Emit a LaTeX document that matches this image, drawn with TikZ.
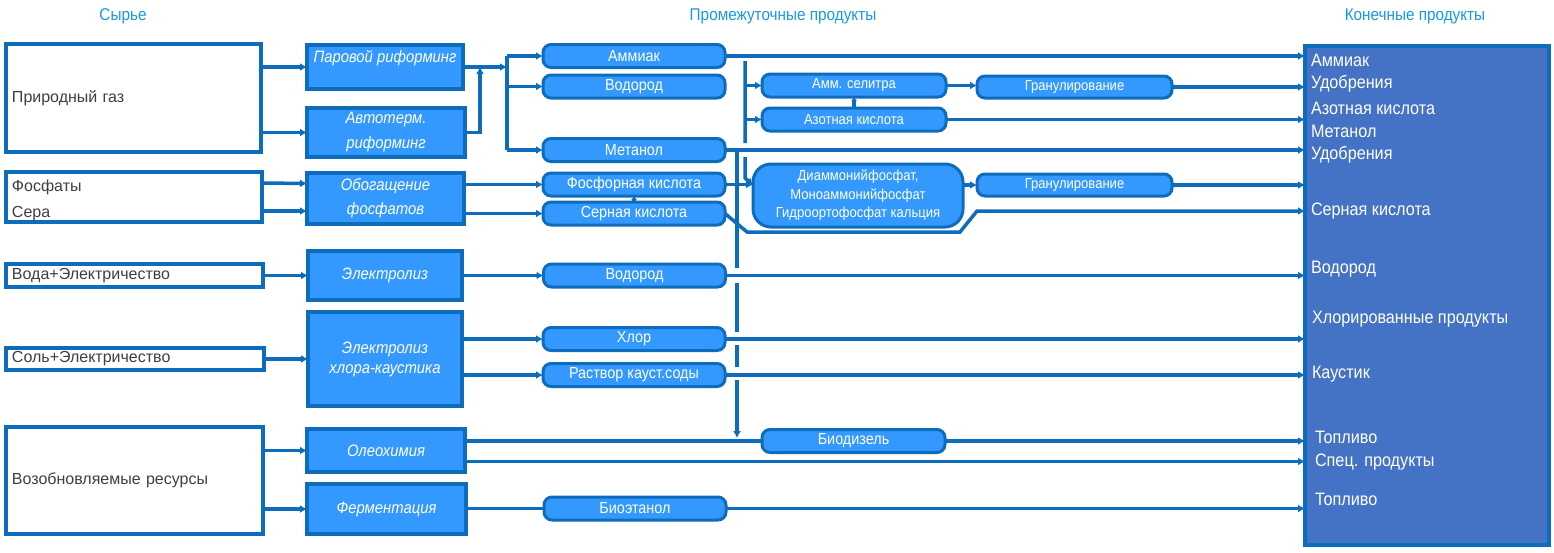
\documentclass[tikz,border=0pt]{standalone}
\usepackage{fontspec}
\setmainfont{Liberation Sans}
\newfontfamily\narrowsans[FakeStretch=0.9]{Liberation Sans}
\usetikzlibrary{arrows.meta}
\definecolor{edgeblue}{RGB}{14,108,188}
\definecolor{fillblue}{RGB}{51,153,255}
\definecolor{prodblue}{RGB}{68,114,196}
\definecolor{headblue}{RGB}{25,152,228}
\definecolor{rawgray}{RGB}{62,62,72}
\begin{document}
\begin{tikzpicture}[x=1pt, y=-1pt, >={Latex[length=7pt,width=8pt]},
    every node/.style={inner sep=0pt, outer sep=0pt},
    rawbox/.style={draw=edgeblue, fill=white, line width=3.5pt, inner xsep=6pt, text=rawgray, align=left, font=\fontsize{16}{19}\selectfont},
    procbox/.style={draw=edgeblue, fill=fillblue, line width=3.5pt, text=white, align=center, font=\narrowsans\fontsize{16.5}{25}\selectfont\itshape},
    midbox/.style={draw=edgeblue, fill=fillblue, line width=3pt, rounded corners=8pt, text=white, minimum width=182pt, minimum height=23pt, font=\narrowsans\fontsize{16}{17}\selectfont},
    midsmall/.style={midbox, font=\narrowsans\fontsize{14.5}{18.5}\selectfont},
    colhead/.style={text=headblue, font=\narrowsans\fontsize{17}{18}\selectfont},
    prodtext/.style={anchor=west, text=white, font=\narrowsans\fontsize{18}{19}\selectfont},
    link/.style={draw=edgeblue, line width=3.5pt},
    tiny/.style={>={Latex[length=4pt,width=6pt]}}]
  \useasboundingbox (0,0) rectangle (1554,552);

  \node[colhead] (hraw) at (123,16) {Сырье};
  \node[colhead] (hmid) at (783,16) {Промежуточные продукты};
  \node[colhead] (hend) at (1415,16) {Конечные продукты};

  \node[rawbox, text width=243pt, minimum height=108pt] (gas) at (133.5,98) {Природный газ};
  \node[rawbox, text width=244pt, minimum height=50pt] (phos) at (134,197) {\rule{0pt}{18pt}Фосфаты\\[7.5pt]Сера};
  \node[rawbox, text width=245pt, minimum height=23pt] (water) at (134.5,275.5) {Вода+Электричество};
  \node[rawbox, text width=246pt, minimum height=22pt] (salt) at (135,359) {Соль+Электричество};
  \node[rawbox, text width=245pt, minimum height=107pt] (renew) at (134.5,480.5) {Возобновляемые ресурсы};

  \node[procbox, minimum width=156pt, inner ysep=3pt, text height=14pt, text depth=24pt] (steam) at (385,67) {Паровой риформинг};
  \node[procbox, minimum width=158pt, minimum height=49pt] (auto) at (386,132.5) {Автотерм.\\риформинг};
  \node[procbox, minimum width=157pt, minimum height=51pt] (benef) at (385.5,198.5) {Обогащение\\[-1pt]фосфатов};
  \node[procbox, minimum width=154pt, minimum height=49pt] (electro) at (385,275.5) {Электролиз};
  \node[procbox, minimum width=154pt, minimum height=94pt] (chlor) at (385,359) {Электролиз\\[-5pt]хлора-каустика};
  \node[procbox, minimum width=158pt, minimum height=43pt] (oleo) at (386,450.5) {Олеохимия};
  \node[procbox, minimum width=159pt, minimum height=50pt] (ferm) at (386.5,509) {Ферментация};

  \node[midbox] (ammonia) at (634,56) {Аммиак};
  \node[midbox] (hydroA) at (634,86.5) {Водород};
  \node[midbox] (methanol) at (634,150) {Метанол};
  \node[midbox] (phosacid) at (634,184.5) {Фосфорная кислота};
  \node[midbox] (sulfacid) at (634,213.5) {Серная кислота};
  \node[midbox] (hydroB) at (634.5,275.5) {Водород};
  \node[midbox] (chlorine) at (634,339) {Хлор};
  \node[midbox] (caustic) at (634,375) {Раствор кауст.соды};
  \node[midbox] (bioeth) at (635,508.5) {Биоэтанол};
  \node[midbox, minimum width=183pt] (biodiesel) at (853.5,441) {Биодизель};
  \node[midsmall, minimum width=184pt] (nitrate) at (854,85.5) {Амм. селитра};
  \node[midsmall, minimum width=184pt] (nitric) at (854,119.5) {Азотная кислота};
  \node[midsmall, minimum width=210pt, minimum height=63pt, rounded corners=18pt, align=center] (dap) at (858,195.5) {Диаммонийфосфат,\\Моноаммонийфосфат\\Гидроортофосфат кальция};
  \node[midsmall, minimum width=195pt, minimum height=22pt] (granA) at (1074.5,87) {Гранулирование};
  \node[midsmall, minimum width=195pt, minimum height=22pt] (granB) at (1074.5,185) {Гранулирование};

  \node[draw=edgeblue, fill=prodblue, line width=3.5pt, minimum width=244pt, minimum height=499pt] (prod) at (1427,295.5) {};
  \node[prodtext] (pAmmonia) at (1311,60) {Аммиак};
  \node[prodtext] (pFertA) at (1311,84) {Удобрения};
  \node[prodtext] (pNitric) at (1311,108) {Азотная кислота};
  \node[prodtext] (pMethanol) at (1311,131) {Метанол};
  \node[prodtext] (pFertB) at (1311,155) {Удобрения};
  \node[prodtext] (pSulf) at (1311,211) {Серная кислота};
  \node[prodtext] (pHydro) at (1311,269) {Водород};
  \node[prodtext] (pChlor) at (1312,319) {Хлорированные продукты};
  \node[prodtext] (pCaustic) at (1312,374) {Каустик};
  \node[prodtext] (pFuelA) at (1315,437) {Топливо};
  \node[prodtext] (pSpec) at (1315,462) {Спец. продукты};
  \node[prodtext] (pFuelB) at (1315,499) {Топливо};

  \coordinate (split) at (507,67);
  \coordinate (merge) at (480,67);
  \coordinate (nbus) at (745,61);
  \coordinate (mbus) at (737,150);

  \draw[link, ->] (gas.east |- steam) -- (steam);
  \draw[link, ->] (gas.east |- auto) -- (auto);
  \draw[link, ->] ([yshift=14pt]phos.east) -- ([yshift=15pt]benef.west);
  \draw[link, ->] ([yshift=-14pt]phos.east) -- ([yshift=-12.5pt]benef.west);
  \draw[link, ->] (water) -- (electro);
  \draw[link, ->] (salt) -- (chlor);
  \draw[link, ->] (renew.east |- oleo) -- (oleo);
  \draw[link, ->] (renew.east |- ferm) -- (ferm);

  \draw[link, ->] (steam) -- (split);
  \draw[link, ->] (auto) -| (merge);
  \draw[link] (split |- ammonia) -- (split |- methanol);
  \draw[link, ->] (split |- ammonia) -- (ammonia);
  \draw[link, ->] (split |- hydroA) -- (hydroA);
  \draw[link, ->] (split |- methanol) -- (methanol);
  \draw[link, ->] (benef.east |- phosacid) -- (phosacid);
  \draw[link, ->] (benef.east |- sulfacid) -- (sulfacid);
  \draw[link, ->, tiny] (sulfacid) -- (phosacid);
  \draw[link, ->] (electro) -- (hydroB);
  \draw[link, ->] (chlor.east |- chlorine) -- (chlorine);
  \draw[link, ->] (chlor.east |- caustic) -- (caustic);
  \draw[link] (oleo.east |- biodiesel) -- (biodiesel);
  \draw[link] (ferm.east |- bioeth) -- (bioeth);

  \draw[link, ->] (nbus) -- ++(0,82) ++(0,14) -- ++(0,21) -- ([yshift=10pt]dap.west);
  \draw[link, ->] (nbus |- nitrate) -- (nitrate);
  \draw[link, ->] (nbus |- nitric) -- (nitric);
  \draw[link, ->, tiny] (nitric) -- (nitrate);
  \draw[link, ->] (mbus) -- ++(0,118) ++(0,15) -- ++(0,49) ++(0,13) -- ++(0,22) ++(0,13) -- ([yshift=3pt]mbus |- biodiesel);
  \draw[link, ->] (phosacid) -- (phosacid -| dap.west);
  \draw[link, ->] (dap.east |- granB) -- (granB);
  \draw[link, ->] (nitrate.east) -- (nitrate.east -| granA.west);

  \draw[link, ->] (ammonia) -- (ammonia -| prod.west);
  \draw[link, ->] (granA) -- (granA -| prod.west);
  \draw[link, ->] (nitric) -- (nitric -| prod.west);
  \draw[link, ->] (methanol) -- (methanol -| prod.west);
  \draw[link, ->] (granB) -- (granB -| prod.west);
  \draw[link, ->] (sulfacid.east) -- ++(22,18.5) -- ++(213,0) -- ++(17,-21) -- (prod.west |- 0,211);
  \draw[link, ->] (hydroB) -- (hydroB -| prod.west);
  \draw[link, ->] (chlorine) -- (chlorine -| prod.west);
  \draw[link, ->] (caustic) -- (caustic -| prod.west);
  \draw[link, ->] (biodiesel) -- (biodiesel -| prod.west);
  \draw[link, ->] ([yshift=-11pt]oleo.east) -- ([yshift=-11pt]oleo.east -| prod.west);
  \draw[link, ->] (bioeth) -- (bioeth -| prod.west);
\end{tikzpicture}
\end{document}
